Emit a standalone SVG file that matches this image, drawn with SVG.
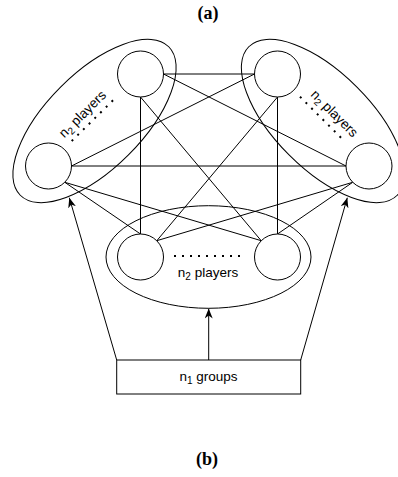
<svg xmlns="http://www.w3.org/2000/svg" width="398" height="477" viewBox="0 0 398 477">
<style>
.c{fill:#fff;stroke:#000;stroke-width:1}
.g{fill:none;stroke:#000;stroke-width:1}
.e{fill:none;stroke:#000;stroke-width:1}
.d{fill:none;stroke:#000;stroke-width:2;stroke-dasharray:2 6}
.t{font-family:"Liberation Sans",Arial,sans-serif;font-size:13.5px;fill:#000}
.s{font-size:10px}
.h{font-family:"Liberation Serif","Times New Roman",serif;font-size:18px;font-weight:bold;fill:#000}
</style>
<defs>
<marker id="arr" viewBox="0 0 10 8" refX="10" refY="4" markerWidth="10" markerHeight="8" markerUnits="userSpaceOnUse" orient="auto">
<path d="M0,0 L10,4 L0,8 L3,4 z" fill="#000"/>
</marker>
</defs>
<rect width="398" height="477" fill="#fff"/>
<text class="h" x="208" y="19" text-anchor="middle">(a)</text>
<text class="h" x="207" y="465" text-anchor="middle">(b)</text>

<g id="group-left">
<ellipse class="g" cx="94.5" cy="121" rx="105" ry="48" transform="rotate(-45 94.5 121)"/>
<line class="d" x1="71.7" y1="141" x2="116.7" y2="96.7"/>
<text class="t" x="82.5" y="118.5" text-anchor="middle" transform="rotate(-45 82.5 114)">n<tspan class="s" dy="3">2</tspan><tspan dy="-3"> players</tspan></text>
</g>
<g id="group-right">
<ellipse class="g" cx="323" cy="121" rx="105" ry="48" transform="rotate(45 323 121)"/>
<line class="d" x1="300" y1="96.7" x2="345" y2="141.7"/>
<text class="t" x="334.5" y="118" text-anchor="middle" transform="rotate(45 334.5 113.5)">n<tspan class="s" dy="3">2</tspan><tspan dy="-3"> players</tspan></text>
</g>
<g id="group-bottom">
<ellipse class="g" cx="208.5" cy="257" rx="102.5" ry="51.3"/>
<line class="d" x1="174" y1="256" x2="241" y2="256"/>
<text class="t" x="208" y="277" text-anchor="middle">n<tspan class="s" dy="3">2</tspan><tspan dy="-3"> players</tspan></text>
</g>

<g id="connectors">
<line class="e" x1="163.5" y1="74" x2="254.5" y2="74"/>
<line class="e" x1="163.5" y1="74" x2="346" y2="166"/>
<line class="e" x1="140.5" y1="97" x2="140.5" y2="234"/>
<line class="e" x1="140.5" y1="97" x2="261.2" y2="240.7"/>
<line class="e" x1="71.5" y1="166" x2="254.5" y2="74"/>
<line class="e" x1="71.5" y1="166" x2="346" y2="166"/>
<line class="e" x1="64.8" y1="182.3" x2="140.5" y2="234"/>
<line class="e" x1="64.8" y1="182.3" x2="261.2" y2="240.7"/>
<line class="e" x1="277.5" y1="97" x2="277.5" y2="234"/>
<line class="e" x1="277.5" y1="97" x2="156.8" y2="240.7"/>
<line class="e" x1="352.7" y1="182.3" x2="277.5" y2="234"/>
<line class="e" x1="352.7" y1="182.3" x2="156.8" y2="240.7"/>
<line class="e" x1="208.7" y1="360" x2="208.7" y2="308.5" marker-end="url(#arr)"/>
<line class="e" x1="116.7" y1="360" x2="69.3" y2="197.7" marker-end="url(#arr)"/>
<line class="e" x1="300.7" y1="360" x2="347.3" y2="197.7" marker-end="url(#arr)"/>
</g>

<g id="node-tl"><circle class="c" cx="140.5" cy="74" r="23"/></g>
<g id="node-l"><circle class="c" cx="48.5" cy="166" r="23"/></g>
<g id="node-tr"><circle class="c" cx="277.5" cy="74" r="23"/></g>
<g id="node-r"><circle class="c" cx="369" cy="166" r="23"/></g>
<g id="node-bl"><circle class="c" cx="140.5" cy="257" r="23"/></g>
<g id="node-br"><circle class="c" cx="277.5" cy="257" r="23"/></g>

<g id="node-groups">
<rect class="c" x="116.7" y="360" width="184" height="34"/>
<text class="t" x="208.5" y="381" text-anchor="middle">n<tspan class="s" dy="3">1</tspan><tspan dy="-3"> groups</tspan></text>
</g>
</svg>
